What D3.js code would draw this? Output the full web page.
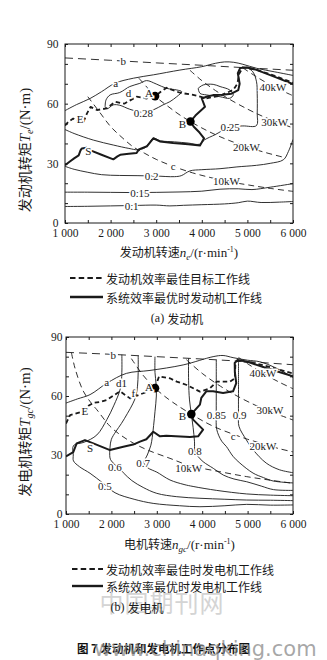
<!DOCTYPE html>
<html><head><meta charset="utf-8">
<script src="https://cdn.jsdelivr.net/npm/d3@7"></script>
<style>body{margin:0;background:#fff}svg{display:block}</style>
</head><body>
<svg id="fig" width="327" height="660"></svg>
<script>
// ---------- shared axis settings ----------
const speedDomain = [1000, 6000];
const torqueDomain = [0, 90];
const xTickValues = [1000, 2000, 3000, 4000, 5000, 6000];
const xTickLabels = ["1 000", "2 000", "3 000", "4 000", "5 000", "6 000"];
const yTickValues = [0, 30, 60, 90];
const yTickLabels = ["0", "30", "60", "90"];

// ---------- (a) engine map: [speed r/min, torque N·m] ----------
const engLineB = [[1000,83],[2000,81.8],[3000,80.5],[4000,79.3],[5000,78],[6000,76.8]];
const engLineA = [[1000,56.5],[1250,59.5],[1550,62.6],[1800,66],[2100,70.3],[2500,72.8],[2940,74.5],[3520,76.9],[4000,78.6],[4300,80.3],[4500,81],[4700,80.8],[4900,79.8],[5200,77.8],[5600,76],[6000,74.2]];
const engP10 = [[1500,63.5],[1750,56],[2000,48.5],[2250,43],[2500,38.2],[2750,35],[3000,32],[3370,28.5],[3800,25.2],[4200,22.8],[4540,21],[5000,19.2],[5500,17.4],[6000,15.9]];
const engP20 = [[2620,72.8],[2800,68.2],[2975,63.8],[3250,58.8],[3500,54.6],[3750,51],[4000,47.8],[4300,44.4],[4600,41.5],[4980,38.3],[5400,35.4],[5800,33]];
const engP30 = [[3740,76.8],[4000,71.6],[4300,66.6],[4600,62.3],[5000,57.3],[5300,54],[5600,51.2],[6000,47.8]];
const engP40 = [[4900,78],[5200,73.5],[5560,68.7],[6000,64]];
const engEff010 = [[1000,8.3],[1500,8.4],[2000,8.6],[2500,8.8],[3000,9],[3300,8.6],[3600,8.9],[4000,9.2],[4500,9.6],[4800,10.2],[5000,11],[5300,10.3],[5700,10.5],[6000,10.8]];
const engEff015 = [[1000,15.5],[1500,15.5],[2000,15.4],[2500,15.3],[3000,15.4],[3500,15.6],[4000,16],[4400,17],[4800,17.2],[5100,16.8],[5500,18],[6000,19.8]];
const engEff020 = [[1000,28.5],[1200,27],[1500,25.5],[1800,24.3],[2200,23.9],[2600,23.8],[3000,23.6],[3400,23.3],[3550,23.8],[3740,26.2],[4000,26.8],[4400,27.3],[4770,28.2],[5200,29],[5500,30],[5790,31.8],[5900,36],[6000,42]];
const engEff025 = [[1000,47],[1200,45],[1620,41.7],[2060,39.2],[2400,37.5],[2600,36.8],[2750,37.8],[2850,40.3],[2936,42.6],[3100,41.3],[3400,40.8],[3700,40.2],[3950,39.6],[4060,41.8],[4300,44.5],[4614,48.3],[4900,48.8],[5200,49],[5215,55],[5215,65],[5200,71],[5120,76],[4980,78.4]];
const engEff028 = [[1880,58.5],[1900,61.9],[1990,64.4],[2200,65.6],[2420,68.6],[2640,70.2],[2790,71.6],[3000,69.9],[3230,67.7],[3450,66.9],[3560,66],[3450,63.5],[3300,61],[3150,59.4],[2940,56.9],[2720,55.6],[2420,57.2],[2200,59.2],[2060,59.4],[1920,57.4],[1880,58.5]];
const engEff028Island = [[3920,67.7],[4030,69.4],[4250,69.7],[4400,68.6],[4610,66.9],[4690,64.4],[4610,62.7],[4400,63.5],[4100,64.4],[3960,65.2],[3920,67.7]];
const engTargetLine = [[1000,49],[1080,51],[1180,52.5],[1300,51],[1400,50.5],[1480,55],[1560,58.4],[1700,56.8],[1910,57.6],[2100,61],[2300,60],[2570,63.5],[2790,62.6],[2975,63.8],[3100,66],[3230,68],[3400,66.5],[3520,65.5],[3810,64.4],[4100,62.7],[4400,64],[4690,66.9],[4780,70],[4820,75],[4900,78.3],[5200,77],[5600,74],[6000,70.5]];
const engSystemLine = [[1000,29],[1100,30.8],[1200,32.5],[1300,34],[1340,36.5],[1370,37.5],[1475,37.8],[1560,36.5],[1800,34.3],[2060,32],[2150,33.5],[2210,34.3],[2400,34.8],[2570,35.2],[2620,37],[2800,38.6],[2936,42.6],[3080,41],[3370,40.2],[3700,39.6],[3960,39],[4050,42.6],[3950,45.5],[3820,48.5],[3750,51],[3860,54],[4070,58.4],[4000,62.6],[4120,63.6],[4246,64.3],[4450,64.5],[4650,65],[4800,66.8],[4830,70],[4790,75.3],[4840,77.9],[5000,78.2],[5200,77],[5600,73.5],[6000,69.8]];
const engPoints = [["A",2975,63.8],["B",3750,51]];
const engLetterLabels = [["a",2110,70.4],["b",2280,81.3],["c",3370,28.5],["d",2390,65.3],["E",1330,52.5],["S",1510,36.3],["A",2840,65.3],["B",3575,50]];
const engEffLabels = [["0.28",2720,55.5],["0.25",4620,48.5],["0.2",2900,23.7],["0.15",2640,15.3],["0.1",2460,8.7]];
const engPowerLabels = [["10kW",4540,21.3],["20kW",4980,38],["30kW",5600,51],["40kW",5560,68.6]];

// ---------- (b) generator map ----------
const genLineB = [[1000,82.2],[2000,81.2],[3000,80],[4000,78.8],[5000,77.5],[6000,75.9]];
const genLineA = [[1000,56.4],[1250,58.5],[1530,60.7],[1900,66.5],[2330,71.5],[2850,73],[3580,75.8],[4240,80],[4460,80.6],[4680,79.5],[5000,78.2],[5270,77.4],[5600,74.5],[6000,69.5]];
const genP10 = [[1120,82],[1200,74],[1380,62.5],[1570,56],[1680,53],[1970,44.6],[2200,40.2],[2480,36.1],[2800,32.5],[3290,28.3],[3700,24.8],[4390,21.5],[4980,19],[5500,17.2],[6000,15.6]];
const genP20 = [[2440,79],[2700,70.5],[2960,64],[3250,58.5],[3500,54.5],[3760,50.8],[4000,47.5],[4300,44],[4680,40.6],[5000,38],[5340,35.7],[5700,33.2],[6000,31.6]];
const genP30 = [[3650,78.5],[4000,71.5],[4400,65],[4800,59.6],[5200,55],[5490,52.2],[6000,47.8]];
const genP40 = [[4800,79.6],[5000,76.4],[5340,71.5],[5700,67],[6000,63.7]];
const genEff05 = [[2230,81],[2230,72],[2200,64],[2050,55],[1900,48],[1680,40.2],[1400,36.5],[1165,34.8],[1160,30],[1165,27],[1300,24],[1530,20.7],[1820,15.6],[2080,10.8],[2500,7.5],[2920,5.4],[3500,4.2],[3950,3.7],[4500,4.2],[4980,4.9],[5500,4.5],[6000,4.6]];
const genEff06 = [[2590,80.5],[2590,72],[2575,65],[2540,60],[2470,56],[2350,51],[2220,46],[2100,42],[2000,38],[1970,34],[1969,28.5],[2000,27],[2080,25],[2160,23.5],[2262,21],[2450,17],[2700,13.5],[3000,10.5],[3440,8.8],[3950,8],[4500,7.5],[4980,7.1],[5500,7],[6000,6.8]];
const genEff07 = [[2960,80],[2960,72],[2985,66],[2990,60],[2960,52],[2930,45],[2900,39],[2870,35],[2790,30],[2720,26.3],[2780,23.8],[2900,22.3],[3000,21.3],[3290,17.3],[3600,15],[3800,14],[4320,12],[4980,10.2],[5500,9.6],[6000,9.3]];
const genEff08 = [[3700,79.2],[3700,68],[3720,58],[3760,51],[3800,44],[3830,37],[3840,31.9],[3900,29.5],[4020,26.6],[4245,23.2],[4465,19.8],[4700,17.8],[4980,16.4],[5300,14.2],[5570,12.4],[6000,12]];
const genEff085 = [[4310,78.4],[4310,60],[4310,50.5],[4320,43],[4430,37],[4530,34.4],[4680,29.3],[4830,25.9],[5120,20.8],[5350,18.5],[5560,16.8],[6000,15.8]];
const genEff09 = [[4800,77.8],[4800,65],[4800,50.5],[4810,44.6],[4970,37.8],[5120,32.7],[5410,25.9],[5700,22.5],[6000,21]];
const genTargetLine = [[1000,46],[1090,50.3],[1310,51.7],[1420,54],[1600,56.5],[1750,57],[1900,58],[2190,62.4],[2410,58.8],[2700,61.4],[2960,64],[3050,70],[3290,69],[3440,67.3],[3660,65.6],[3950,62.2],[4170,63.9],[4320,67.3],[4610,67.3],[4720,69],[4730,75.7],[4780,78],[5200,76.5],[6000,71.5]];
const genSystemLine = [[1000,29.3],[1160,31.5],[1235,35.9],[1418,37.6],[1601,35.9],[1969,32.5],[2262,34.2],[2480,35.3],[2630,36.8],[2770,38],[2923,41.8],[3070,39.5],[3210,39.8],[3730,39.2],[3910,39.5],[4020,42.9],[3800,48],[3760,50.8],[3950,55.6],[3980,59],[4090,62.4],[4240,62.4],[4460,61.5],[4680,62.4],[4750,66.6],[4720,72],[4716,76.8],[4780,78.3],[4970,77.6],[5410,74.2],[6000,70]];
const genPoints = [["A",2960,64],["B",3760,50.8]];
const genLetterLabels = [["a",1894,67.1],["b",2040,81],["c",4680,39.8],["d1",2224,66.8],["E",1418,52.2],["f",2481,61.5],["S",1528,33.4],["A",2830,64.6],["B",3565,49.8]];
const genEffLabels = [["0.5",1858,14.2],["0.6",2078,24],["0.7",2700,26],["0.8",3837,31.9],["0.85",4313,50.5],["0.9",4826,50.5]];
const genPowerLabels = [["10kW",3700,23.4],["20kW",5340,34.6],["30kW",5490,52.8],["40kW",5340,71.7]];

// ---------- drawing ----------
const fig = d3.select("#fig");
const CJK = "'Noto Sans CJK SC','Noto Sans',sans-serif";
const SERIF = "'Liberation Serif','DejaVu Serif',serif";
const INK = "#1a1a1a";

function drawPanel(p) {
  const x = d3.scaleLinear().domain(speedDomain).range([p.left, p.right]);
  const y = d3.scaleLinear().domain(torqueDomain).range([p.bottom, p.top]);
  const g = fig.append("g");
  const clipId = "clip-" + p.id;
  g.append("clipPath").attr("id", clipId).append("rect")
    .attr("x", p.left).attr("y", p.top)
    .attr("width", p.right - p.left).attr("height", p.bottom - p.top);
  const plot = g.append("g").attr("clip-path", `url(#${clipId})`);

  const smooth = d3.line().x(d => x(d[0])).y(d => y(d[1])).curve(d3.curveCatmullRom.alpha(0.5));
  const rough = d3.line().x(d => x(d[0])).y(d => y(d[1]));

  const draw = (data, gen, width, dash) => plot.append("path")
    .attr("d", gen(data)).attr("fill", "none").attr("stroke", INK)
    .attr("stroke-width", width).attr("stroke-linejoin", "round")
    .attr("stroke-dasharray", dash || null);

  p.contours.forEach(c => draw(c, smooth, 0.9));
  p.powers.forEach(c => draw(c, smooth, 0.9, "6,4"));
  draw(p.lineA, smooth, 0.9);
  draw(p.lineB, rough, 0.9, "8,5");
  draw(p.target, rough, 1.8, "4.5,3");
  draw(p.system, rough, 2);

  // frame and inward ticks
  const minorX = d3.range(1000, 6001, 500);
  const minorY = d3.range(0, 91, 10);
  const ax = (axis, tx, ty) => {
    const a = g.append("g").attr("transform", `translate(${tx},${ty})`).call(axis);
    a.select(".domain").remove();
    a.selectAll("line").attr("stroke", INK);
    return a;
  };
  const xb = ax(d3.axisBottom(x).tickValues(minorX).tickSizeInner(-3).tickSizeOuter(0).tickPadding(p.xPad)
      .tickFormat(d => { const i = xTickValues.indexOf(d); return i < 0 ? "" : xTickLabels[i]; }), 0, p.bottom);
  ax(d3.axisTop(x).tickValues(minorX).tickSizeInner(-3).tickSizeOuter(0).tickFormat(""), 0, p.top);
  const yl = ax(d3.axisLeft(y).tickValues(minorY).tickSizeInner(-3).tickSizeOuter(0).tickPadding(p.yPad)
      .tickFormat(d => { const i = yTickValues.indexOf(d); return i < 0 ? "" : yTickLabels[i]; }), p.left, 0);
  ax(d3.axisRight(y).tickValues(minorY).tickSizeInner(-3).tickSizeOuter(0).tickFormat(""), p.right, 0);
  [xb, yl].forEach(a => a.selectAll("text").attr("font-family", SERIF).attr("font-size", 11.5).attr("fill", INK));
  g.append("rect").attr("x", p.left).attr("y", p.top)
    .attr("width", p.right - p.left).attr("height", p.bottom - p.top)
    .attr("fill", "none").attr("stroke", INK).attr("stroke-width", 1);

  // operating points
  plot.selectAll("circle.pt").data(p.points).join("circle")
    .attr("cx", d => x(d[1])).attr("cy", d => y(d[2])).attr("r", 4.3).attr("fill", "#000");

  // labels on lines, with a white halo that breaks the line
  const labels = [].concat(p.letters, p.effLabels, p.powerLabels);
  plot.selectAll("text.lab").data(labels).join("text")
    .attr("x", d => x(d[1])).attr("y", d => y(d[2]))
    .attr("text-anchor", "middle").attr("dominant-baseline", "central")
    .attr("font-family", SERIF).attr("font-size", 11).attr("fill", INK)
    .attr("stroke", "#fff").attr("stroke-width", 3).attr("paint-order", "stroke")
    .text(d => d[0]);

  // axis titles
  const xt = fig.append("text").attr("x", (p.left + p.right) / 2).attr("y", p.xTitleY)
    .attr("text-anchor", "middle").attr("font-size", 12).attr("fill", INK);
  xt.append("tspan").attr("font-family", CJK).text(p.xTitle);
  xt.append("tspan").attr("font-family", SERIF).attr("font-style", "italic").attr("font-size", 13).text("n");
  xt.append("tspan").attr("font-family", SERIF).attr("font-style", "italic").attr("font-size", 9).attr("dy", 3).text(p.sub);
  xt.append("tspan").attr("font-family", SERIF).attr("font-size", 13).attr("dy", -3).text("/(r·min");
  xt.append("tspan").attr("font-family", SERIF).attr("font-size", 8).attr("dy", -5).text("-1");
  xt.append("tspan").attr("font-family", SERIF).attr("font-size", 13).attr("dy", 5).text(")");

  const yt = fig.append("text").attr("transform", `translate(${p.yTitleX},${p.yTitleY}) rotate(-90)`)
    .attr("text-anchor", "middle").attr("font-size", 14).attr("fill", INK);
  yt.append("tspan").attr("font-family", CJK).text(p.yTitle);
  yt.append("tspan").attr("font-family", SERIF).attr("font-style", "italic").attr("font-size", 15).text("T");
  yt.append("tspan").attr("font-family", SERIF).attr("font-style", "italic").attr("font-size", 10).attr("dy", 3).text(p.sub);
  yt.append("tspan").attr("font-family", SERIF).attr("font-size", 15).attr("dy", -3).text("/(N·m)");

  // legend
  const lg = fig.append("g");
  lg.append("line").attr("x1", p.legX0).attr("x2", 103).attr("y1", p.legY[0]).attr("y2", p.legY[0])
    .attr("stroke", INK).attr("stroke-width", 2.2).attr("stroke-dasharray", "5.5,3.2");
  lg.append("line").attr("x1", p.legX0).attr("x2", 103).attr("y1", p.legY[1]).attr("y2", p.legY[1])
    .attr("stroke", INK).attr("stroke-width", 2.4);
  p.legText.forEach((t, i) => lg.append("text").attr("x", 106).attr("y", p.legY[i])
    .attr("dominant-baseline", "central").attr("font-family", CJK).attr("font-size", 12)
    .attr("fill", INK).text(t));
}

drawPanel({
  id: "eng", left: 65, right: 293, top: 44, bottom: 223, xPad: 6, yPad: 6.5,
  lineA: engLineA, lineB: engLineB, target: engTargetLine, system: engSystemLine,
  contours: [engEff010, engEff015, engEff020, engEff025, engEff028, engEff028Island],
  powers: [engP10, engP20, engP30, engP40],
  points: engPoints, letters: engLetterLabels, effLabels: engEffLabels, powerLabels: engPowerLabels,
  xTitle: "发动机转速", sub: "e", xTitleY: 257, yTitle: "发动机转矩", yTitleX: 30, yTitleY: 150,
  legX0: 70, legY: [278, 297],
  legText: ["发动机效率最佳目标工作线", "系统效率最优时发动机工作线"]
});
fig.append("text").attr("x", 177).attr("y", 318).attr("text-anchor", "middle")
  .attr("dominant-baseline", "central").attr("font-size", 12).attr("fill", INK)
  .html(`<tspan font-family="${SERIF}">(a) </tspan><tspan font-family="${CJK}">发动机</tspan>`);

drawPanel({
  id: "gen", left: 66, right: 293, top: 337, bottom: 514, xPad: 5.5, yPad: 3.5,
  lineA: genLineA, lineB: genLineB, target: genTargetLine, system: genSystemLine,
  contours: [genEff05, genEff06, genEff07, genEff08, genEff085, genEff09],
  powers: [genP10, genP20, genP30, genP40],
  points: genPoints, letters: genLetterLabels, effLabels: genEffLabels, powerLabels: genPowerLabels,
  xTitle: "电机转速", sub: "gc", xTitleY: 549, yTitle: "发电机转矩", yTitleX: 30, yTitleY: 432,
  legX0: 72, legY: [569, 586],
  legText: ["发动机效率最佳时发电机工作线", "系统效率最优时发电机工作线"]
});

// site marks and figure caption
fig.append("text").attr("x", 162).attr("y", 601).attr("text-anchor", "middle")
  .attr("dominant-baseline", "central").attr("font-family", CJK).attr("font-size", 24)
  .attr("fill", "#d4d4d4").attr("letter-spacing", 1).text("中国期刊网");
fig.append("text").attr("x", 137).attr("y", 607).attr("text-anchor", "middle")
  .attr("dominant-baseline", "central").attr("font-size", 12).attr("fill", INK)
  .html(`<tspan font-family="${SERIF}">(b) </tspan><tspan font-family="${CJK}">发电机</tspan>`);
fig.append("text").attr("x", 77).attr("y", 648).attr("dominant-baseline", "central")
  .attr("font-family", CJK).attr("font-size", 11.5).attr("font-weight", "bold").attr("fill", "#111")
  .text("图 7  发动机和发电机工作点分布图");
fig.append("text").attr("x", 94).attr("y", 649).attr("dominant-baseline", "central")
  .attr("font-family", "'DejaVu Sans',sans-serif").attr("font-size", 21).attr("fill", "#8a8a8a")
  .attr("fill-opacity", 0.75).text("www.chinaqking.com");
</script>
</body></html>
